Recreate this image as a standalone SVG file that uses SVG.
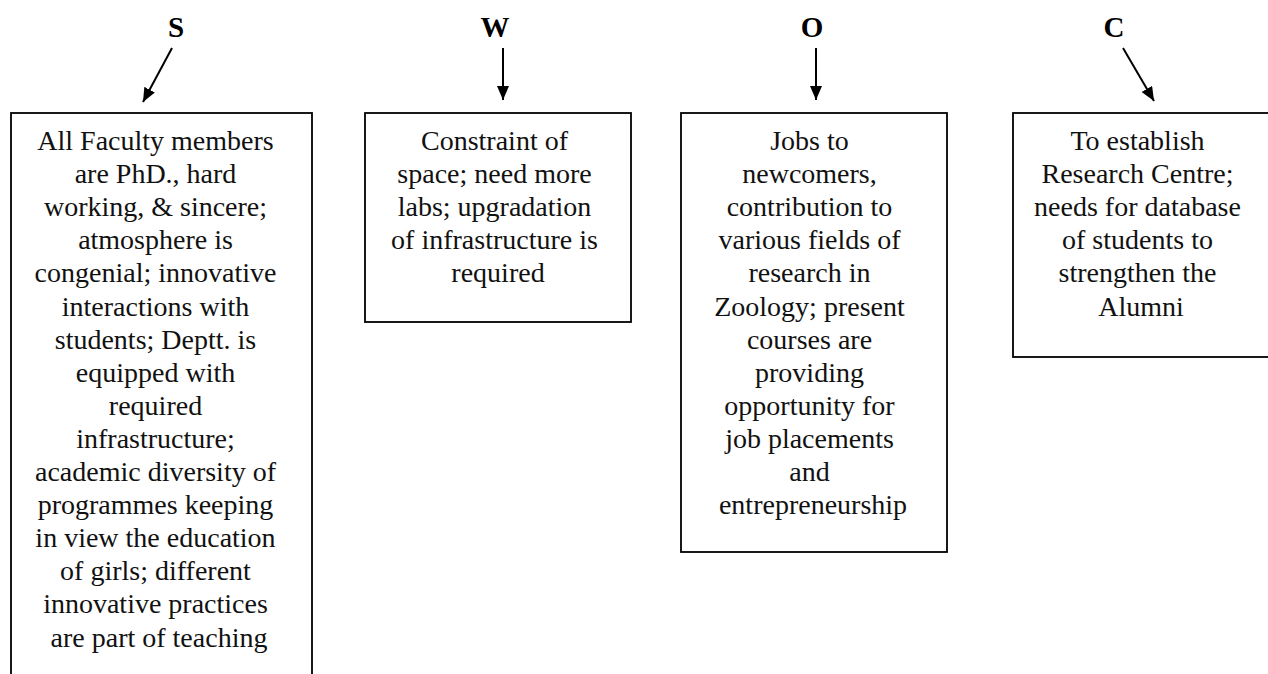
<svg xmlns="http://www.w3.org/2000/svg" width="1268" height="674" viewBox="0 0 1268 674">
<style>
.bg{fill:#ffffff}
.box{fill:#ffffff;stroke:#000000;stroke-width:1.8}
.t{font-family:"Liberation Serif","Times New Roman",serif;font-size:28px;fill:#111111;text-anchor:middle}
.h{font-family:"Liberation Serif","Times New Roman",serif;font-size:29px;font-weight:bold;fill:#000000;text-anchor:middle}
.conn{stroke:#000000;stroke-width:2;fill:none;marker-end:url(#ah)}
</style>
<defs>
<marker id="ah" viewBox="0 0 14 12" refX="14" refY="6" markerWidth="14" markerHeight="12" markerUnits="userSpaceOnUse" orient="auto">
<path d="M0,0 L14,6 L0,12 z" fill="#000000"/>
</marker>
</defs>
<rect class="bg" x="0" y="0" width="1268" height="674"/>
<g id="labels">
<text class="h" x="176" y="37">S</text>
<text class="h" x="495" y="37">W</text>
<text class="h" x="812" y="37">O</text>
<text class="h" x="1114" y="37">C</text>
</g>
<g id="connectors">
<line class="conn" x1="172" y1="48" x2="143" y2="102"/>
<line class="conn" x1="503" y1="48" x2="503" y2="100"/>
<line class="conn" x1="816" y1="48" x2="816" y2="100"/>
<line class="conn" x1="1123" y1="48" x2="1154" y2="101"/>
</g>
<g id="node-s">
<rect class="box" x="11" y="113" width="301" height="600"/>
<text class="t">
<tspan x="159" y="150">All Faculty members</tspan>
<tspan x="159" y="183.1">are PhD., hard</tspan>
<tspan x="159" y="216.2">working, &amp; sincere;</tspan>
<tspan x="159" y="249.3">atmosphere is</tspan>
<tspan x="159" y="282.4">congenial; innovative</tspan>
<tspan x="159" y="315.5">interactions with</tspan>
<tspan x="159" y="348.6">students; Deptt. is</tspan>
<tspan x="159" y="381.7">equipped with</tspan>
<tspan x="159" y="414.8">required</tspan>
<tspan x="159" y="447.9">infrastructure;</tspan>
<tspan x="159" y="481">academic diversity of</tspan>
<tspan x="159" y="514.1">programmes keeping</tspan>
<tspan x="159" y="547.2">in view the education</tspan>
<tspan x="159" y="580.3">of girls; different</tspan>
<tspan x="159" y="613.4">innovative practices</tspan>
<tspan x="159" y="646.5">are part of teaching</tspan>
</text>
</g>
<g id="node-w">
<rect class="box" x="365" y="113" width="266" height="209"/>
<text class="t">
<tspan x="498" y="150">Constraint of</tspan>
<tspan x="498" y="183.1">space; need more</tspan>
<tspan x="498" y="216.2">labs; upgradation</tspan>
<tspan x="498" y="249.3">of infrastructure is</tspan>
<tspan x="498" y="282.4">required</tspan>
</text>
</g>
<g id="node-o">
<rect class="box" x="681" y="113" width="266" height="439"/>
<text class="t">
<tspan x="813" y="150">Jobs to</tspan>
<tspan x="813" y="183.1">newcomers,</tspan>
<tspan x="813" y="216.2">contribution to</tspan>
<tspan x="813" y="249.3">various fields of</tspan>
<tspan x="813" y="282.4">research in</tspan>
<tspan x="813" y="315.5">Zoology; present</tspan>
<tspan x="813" y="348.6">courses are</tspan>
<tspan x="813" y="381.7">providing</tspan>
<tspan x="813" y="414.8">opportunity for</tspan>
<tspan x="813" y="447.9">job placements</tspan>
<tspan x="813" y="481">and</tspan>
<tspan x="813" y="514.1">entrepreneurship</tspan>
</text>
</g>
<g id="node-c">
<rect class="box" x="1013" y="113" width="270" height="244"/>
<text class="t">
<tspan x="1141" y="150">To establish</tspan>
<tspan x="1141" y="183.1">Research Centre;</tspan>
<tspan x="1141" y="216.2">needs for database</tspan>
<tspan x="1141" y="249.3">of students to</tspan>
<tspan x="1141" y="282.4">strengthen the</tspan>
<tspan x="1141" y="315.5">Alumni</tspan>
</text>
</g>
</svg>
